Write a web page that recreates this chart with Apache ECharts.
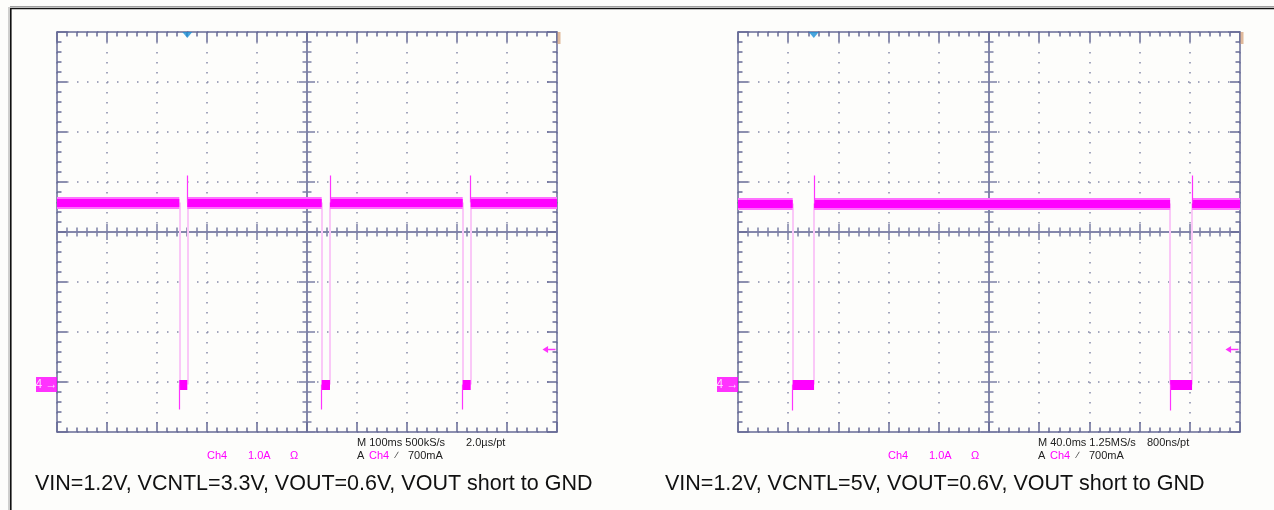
<!DOCTYPE html>
<html><head><meta charset="utf-8">
<script src="https://cdn.jsdelivr.net/npm/echarts@6/dist/echarts.min.js"></script>
<style>html,body{margin:0;padding:0;background:#fdfdfb}#c{width:1274px;height:510px}</style>
</head><body><div id="c"></div>
<script>
// ---------------- data ----------------
// left capture: 100 ms/div, 1.0 A/div
const leftTimeRangeMs = [0, 1000];
const leftTickMs = 100;
const leftFallMs = [244.6, 529.4, 811.4];
const leftRiseMs = [260.6, 546.0, 827.4];
const leftHighA = 3.64;
const leftLowA = 0.0;
const leftSpikeA = 4.18;
const leftDipA = -0.5;
const leftTriggerMs = 260.6;
// right capture: 40 ms/div, 1.0 A/div
const rightTimeRangeMs = [0, 400];
const rightTickMs = 40;
const rightFallMs = [43.6, 344.3];
const rightRiseMs = [60.6, 361.8];
const rightHighA = 3.62;
const rightLowA = 0.0;
const rightSpikeA = 4.18;
const rightDipA = -0.52;
const rightTriggerMs = 60.4;
// common
const triggerLevelA = 0.7;
const groundA = 0;
const ampsPerDiv = 1.0;
const groundDiv = -3.05;
const divRange = [-4, 4];
const leftCaption = 'VIN=1.2V, VCNTL=3.3V, VOUT=0.6V, VOUT short to GND';
const rightCaption = 'VIN=1.2V, VCNTL=5V, VOUT=0.6V, VOUT short to GND';
const leftTimebase = ['M 100ms 500kS/s', '2.0\u00b5s/pt'];
const rightTimebase = ['M 40.0ms 1.25MS/s', '800ns/pt'];
const channelLabel = ['Ch4', '1.0A', '\u03a9'];
const triggerLabel = ['A', 'Ch4', '\u2215', '700mA'];

// ---------------- styling / layout ----------------
const AX = '#676b97';
const CENTER = '#7c80a6';
const DOT = '#878aab';
const MAG = '#ff00ff';
const grids = [
  {left: 57, top: 32, width: 500, height: 400},
  {left: 738, top: 32, width: 502, height: 400}
];
const toDiv = a => a / ampsPerDiv + groundDiv;

const xAxes = [], yAxes = [];
function addAxes(gi, range, tick, g) {
  const xb = (extra) => Object.assign({
    type: 'value', gridIndex: gi, min: range[0], max: range[1], interval: tick,
    axisLabel: {show: false}, splitLine: {show: false},
    axisLine: {show: true, onZero: false, lineStyle: {color: AX, width: 1.5}},
    axisTick: {show: true, inside: true, length: 10, lineStyle: {color: AX, width: 1.5}},
    minorTick: {show: true, splitNumber: 5, length: 4.5, lineStyle: {color: AX, width: 1.5}}
  }, extra);
  const yb = (extra) => Object.assign({
    type: 'value', gridIndex: gi, min: divRange[0], max: divRange[1], interval: 1,
    axisLabel: {show: false}, splitLine: {show: false},
    axisLine: {show: true, onZero: false, lineStyle: {color: AX, width: 1.5}},
    axisTick: {show: true, inside: true, length: 10, lineStyle: {color: AX, width: 1.5}},
    minorTick: {show: true, splitNumber: 5, length: 4.5, lineStyle: {color: AX, width: 1.5}}
  }, extra);
  const centerTick = (inside) => ({show: true, inside, length: 8, lineStyle: {color: CENTER, width: 1.5}});
  const centerMinor = {show: true, splitNumber: 5, length: 4.5, lineStyle: {color: CENTER, width: 1.5}};
  const centerLine = {show: true, onZero: false, lineStyle: {color: CENTER, width: 1.5}};
  const dotted = {show: true, lineStyle: {color: DOT, width: 1.5, type: [1.5, 8.5]}};
  xAxes.push(xb({position: 'bottom', splitLine: dotted}));
  xAxes.push(xb({position: 'top'}));
  xAxes.push(xb({position: 'bottom', offset: -g.height / 2, axisLine: centerLine, axisTick: centerTick(true), minorTick: centerMinor}));
  xAxes.push(xb({position: 'bottom', offset: -g.height / 2, axisLine: centerLine, axisTick: centerTick(false), minorTick: centerMinor}));
  yAxes.push(yb({position: 'left', splitLine: dotted}));
  yAxes.push(yb({position: 'right'}));
  yAxes.push(yb({position: 'left', offset: -g.width / 2, axisLine: centerLine, axisTick: centerTick(true), minorTick: centerMinor}));
  yAxes.push(yb({position: 'left', offset: -g.width / 2, axisLine: centerLine, axisTick: centerTick(false), minorTick: centerMinor}));
}
addAxes(0, leftTimeRangeMs, leftTickMs, grids[0]);
addAxes(1, rightTimeRangeMs, rightTickMs, grids[1]);

function traceSeries(ai, range, fall, rise, high, low, spike, dip, trig) {
  const hi = toDiv(high), lo = toDiv(low);
  const bands = [];
  let start = range[0];
  fall.forEach((f, i) => { bands.push([[start, hi], [f, hi]]); start = rise[i]; });
  bands.push([[start, hi], [range[1], hi]]);
  const blocks = fall.map((f, i) => [[f, lo], [rise[i], lo]]);
  const pale = [];
  fall.forEach((f, i) => { pale.push([[f, hi], [f, lo]]); pale.push([[rise[i], lo], [rise[i], hi]]); });
  const glitch = [];
  fall.forEach((f, i) => { glitch.push([[f, lo], [f, toDiv(dip)]]); glitch.push([[rise[i], hi], [rise[i], toDiv(spike)]]); });
  const L = (data, color, width, z) => ({
    type: 'lines', coordinateSystem: 'cartesian2d', xAxisIndex: ai, yAxisIndex: ai,
    polyline: false, silent: true, animation: false, z,
    data: data.map(c => ({coords: c})),
    lineStyle: {color, width, opacity: 1, cap: 'butt', curveness: 0}
  });
  const S = (pt, extra) => Object.assign({
    type: 'scatter', xAxisIndex: ai, yAxisIndex: ai, clip: false, silent: true,
    animation: false, z: 6, data: [pt]
  }, extra);
  return [
    L(pale, '#fac8f7', 2, 3),
    L(bands, '#ff70ff', 12, 4),
    L(bands, MAG, 8, 5),
    L(blocks, MAG, 10, 5),
    L(glitch, '#ff33ff', 1.2, 5),
    // ground marker "4 →"
    S([range[0], toDiv(groundA)], {
      symbol: 'rect', symbolSize: [21, 15], symbolOffset: [-10.5, 0],
      itemStyle: {color: MAG},
      label: {show: true, position: 'inside', formatter: '4 \u2192', color: '#fff', fontSize: 12, fontFamily: 'Liberation Sans'}
    }),
    // trigger level arrow
    S([range[1], toDiv(triggerLevelA)], {
      symbol: 'path://M0,5 L6,0 L6,4 L14,4 L14,6 L6,6 L6,10 Z', symbolSize: [13, 7], symbolOffset: [-8, 0],
      itemStyle: {color: MAG}
    }),
    // trigger position marker
    S([trig, divRange[1]], {
      symbol: 'triangle', symbolSize: [10, 6], symbolRotate: 180, symbolOffset: [0, 3],
      itemStyle: {color: '#1a8fd6'}
    }),
    // small tan marker at top right
    S([range[1], divRange[1]], {
      symbol: 'rect', symbolSize: [3, 12], symbolOffset: [2, 6],
      itemStyle: {color: '#d8a883'}
    })
  ];
}

const series = [].concat(
  traceSeries(0, leftTimeRangeMs, leftFallMs, leftRiseMs, leftHighA, leftLowA, leftSpikeA, leftDipA, leftTriggerMs),
  traceSeries(4, rightTimeRangeMs, rightFallMs, rightRiseMs, rightHighA, rightLowA, rightSpikeA, rightDipA, rightTriggerMs)
);

const F = '"Liberation Sans", Arial, sans-serif';
function txt(text, x, y, size, color) {
  return {type: 'text', x, y, silent: true, z: 10,
    style: {text, font: size + 'px ' + F, fill: color, textAlign: 'left', textVerticalAlign: 'middle', align: 'left', verticalAlign: 'middle'}};
}
function scopeTexts(g, tb) {
  const L = g.left;
  return [
    txt(channelLabel[0], L + 150, 455.5, 11, MAG),
    txt(channelLabel[1], L + 191, 455.5, 11, MAG),
    txt(channelLabel[2], L + 233, 455.5, 11, MAG),
    txt(tb[0], L + 300, 442.5, 11, '#222'),
    txt(tb[1], L + 409, 442.5, 11, '#222'),
    txt(triggerLabel[0], L + 300, 455.5, 11, '#222'),
    txt(triggerLabel[1], L + 312, 455.5, 11, MAG),
    txt(triggerLabel[2], L + 339, 456, 9, '#222'),
    txt(triggerLabel[3], L + 351, 455.5, 11, '#222')
  ];
}

const graphic = [
  {type: 'line', silent: true, shape: {x1: 10, y1: 6.5, x2: 1274, y2: 6.5}, style: {stroke: '#a0a0a0', lineWidth: 1}},
  {type: 'line', silent: true, shape: {x1: 10, y1: 8.5, x2: 1274, y2: 8.5}, style: {stroke: '#111', lineWidth: 1.6}},
  {type: 'line', silent: true, shape: {x1: 9, y1: 7, x2: 9, y2: 510}, style: {stroke: '#a0a0a0', lineWidth: 1}},
  {type: 'line', silent: true, shape: {x1: 10.8, y1: 8, x2: 10.8, y2: 510}, style: {stroke: '#111', lineWidth: 1.6}}
].concat(
  scopeTexts(grids[0], leftTimebase),
  scopeTexts(grids[1], rightTimebase),
  [txt(leftCaption, 35, 484, 21.5, '#111'), txt(rightCaption, 665, 484, 21.5, '#111')]
);

const chart = echarts.init(document.getElementById('c'), null, {renderer: 'canvas'});
chart.setOption({
  backgroundColor: '#fdfdfb',
  animation: false,
  grid: grids.map(g => Object.assign({containLabel: false}, g)),
  xAxis: xAxes,
  yAxis: yAxes,
  series,
  graphic
});
</script>
</body></html>
